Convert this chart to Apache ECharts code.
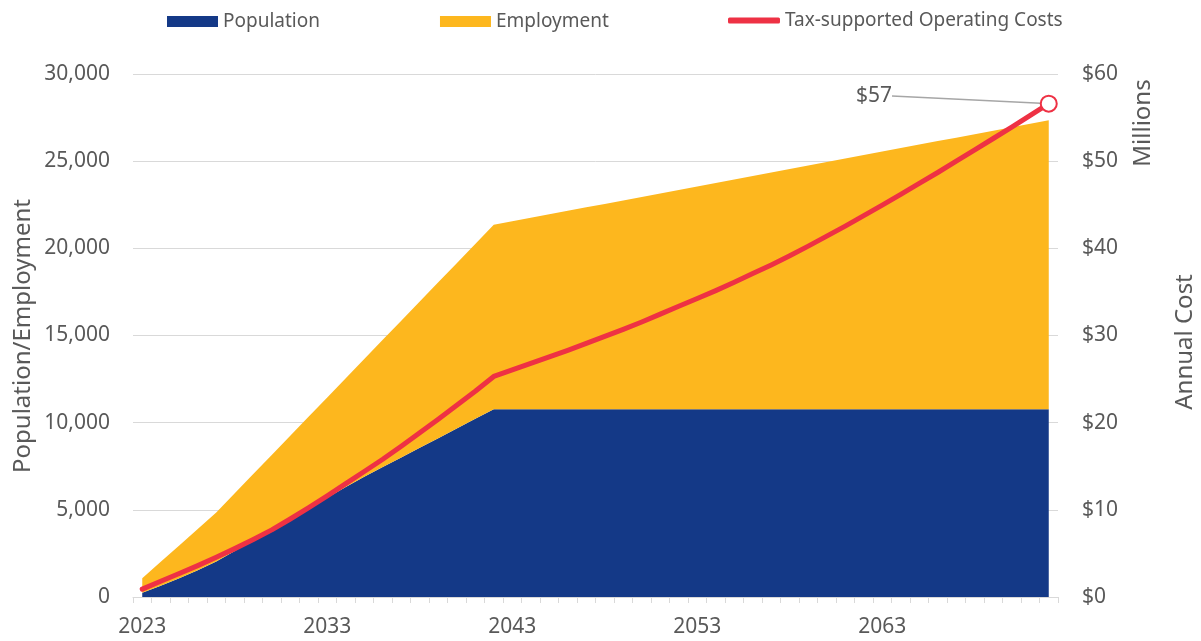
<!DOCTYPE html>
<html>
<head>
<meta charset="utf-8">
<script src="https://cdn.jsdelivr.net/npm/echarts@6/dist/echarts.min.js"></script>
<style>
  html, body { margin: 0; padding: 0; background: #fff; }
  #chart { width: 1201px; height: 641px; }
</style>
</head>
<body>
<div id="chart"></div>
<script>
// ---- Data ----
const years = [];
for (let y = 2023; y <= 2072; y++) years.push(String(y));

const population = [
  250, 650, 1070, 1530, 2030, 2640, 3250, 3860, 4480, 5090,
  5700, 6310, 6900, 7450, 8000, 8560, 9110, 9660, 10220, 10770,
  10770, 10770, 10770, 10770, 10770, 10770, 10770, 10770, 10770, 10770,
  10770, 10770, 10770, 10770, 10770, 10770, 10770, 10770, 10770, 10770,
  10770, 10770, 10770, 10770, 10770, 10770, 10770, 10770, 10770, 10770
];

const employment = [
  820, 1365, 1890, 2375, 2820, 3310, 3800, 4290, 4770, 5260,
  5750, 6240, 6750, 7300, 7850, 8390, 8940, 9490, 10030, 10580,
  10780, 10980, 11180, 11380, 11580, 11780, 11980, 12180, 12380, 12580,
  12780, 12980, 13180, 13380, 13580, 13780, 13980, 14180, 14380, 14580,
  14780, 14980, 15180, 15380, 15580, 15780, 15980, 16180, 16380, 16580
];

const operatingCosts = [
  0.9, 1.8, 2.7, 3.6, 4.55, 5.55, 6.6, 7.7, 8.95, 10.25,
  11.6, 13.0, 14.4, 15.8, 17.3, 18.85, 20.4, 22.0, 23.6, 25.3,
  26.05, 26.8, 27.55, 28.3, 29.1, 29.9, 30.7, 31.55, 32.45, 33.35,
  34.25, 35.15, 36.1, 37.1, 38.1, 39.15, 40.25, 41.4, 42.55, 43.75,
  44.95, 46.2, 47.45, 48.7, 50.0, 51.3, 52.6, 53.9, 55.25, 56.6
];

const leftTicks = { min: 0, max: 30000, interval: 5000 };
const rightTicks = { min: 0, max: 60, interval: 10 };

// ---- Styles ----
const FONT = 'Noto Sans';
const TXT = '#595959';
const BLUE = '#143987';
const YELLOW = '#FDB71E';
const RED = '#EE3144';
const GRID = '#D9D9D9';

const costData = operatingCosts.map((v, i) => {
  if (i === operatingCosts.length - 1) {
    return {
      value: v,
      symbol: 'circle',
      symbolSize: 16,
      itemStyle: { color: '#fff', borderColor: RED, borderWidth: 2 },
      label: {
        show: true,
        formatter: p => '$' + Math.round(p.value),
        fontFamily: FONT, fontSize: 21, color: TXT
      }
    };
  }
  return v;
});

const chart = echarts.init(document.getElementById('chart'), null, { renderer: 'canvas' });

chart.setOption({
  animation: false,
  backgroundColor: '#fff',
  textStyle: { fontFamily: FONT, color: TXT },
  grid: { left: 133, right: 143, top: 74, bottom: 44, containLabel: false },
  legend: [
    {
      data: [
        { name: 'Population', icon: 'rect' },
        { name: 'Employment', icon: 'rect' }
      ],
      left: 167, top: 11, padding: 0,
      itemWidth: 51, itemHeight: 11, itemGap: 120,
      textStyle: { fontFamily: FONT, fontSize: 19, color: TXT, lineHeight: 21 }
    },
    {
      data: [{ name: 'Tax-supported Operating Costs', icon: 'roundRect' }],
      left: 728, top: 10, padding: 0,
      itemWidth: 52, itemHeight: 6,
      textStyle: { fontFamily: FONT, fontSize: 19, color: TXT, lineHeight: 21 }
    }
  ],
  xAxis: {
    type: 'category',
    data: years,
    boundaryGap: true,
    axisLine: { lineStyle: { color: GRID, width: 1 } },
    axisTick: { show: true, interval: 0, length: 6, lineStyle: { color: GRID } },
    axisLabel: { interval: 9, fontFamily: FONT, fontSize: 21, color: TXT, margin: 20 },
    splitLine: { show: false }
  },
  yAxis: [
    {
      type: 'value',
      min: leftTicks.min, max: leftTicks.max, interval: leftTicks.interval,
      axisLine: { show: false },
      axisTick: { show: false },
      axisLabel: {
        fontFamily: FONT, fontSize: 21, color: TXT, margin: 23,
        formatter: v => v.toLocaleString('en-US')
      },
      splitLine: { lineStyle: { color: GRID, width: 1 } }
    },
    {
      type: 'value',
      min: rightTicks.min, max: rightTicks.max, interval: rightTicks.interval,
      position: 'right',
      axisLine: { show: false },
      axisTick: { show: false },
      axisLabel: {
        fontFamily: FONT, fontSize: 21, color: TXT, margin: 24,
        formatter: v => '$' + v
      },
      splitLine: { show: false }
    }
  ],
  graphic: [
    {
      type: 'text', x: 23, y: 336, rotation: Math.PI / 2,
      style: { text: 'Population/Employment', fontFamily: FONT, fontSize: 24, fill: TXT,
               align: 'center', verticalAlign: 'middle' }
    },
    {
      type: 'text', x: 1143, y: 123, rotation: Math.PI / 2,
      style: { text: 'Millions', fontFamily: FONT, fontSize: 24, fill: TXT,
               align: 'center', verticalAlign: 'middle' }
    },
    {
      type: 'text', x: 1185, y: 342, rotation: Math.PI / 2,
      style: { text: 'Annual Cost', fontFamily: FONT, fontSize: 24, fill: TXT,
               align: 'center', verticalAlign: 'middle' }
    }
  ],
  series: [
    {
      name: 'Population',
      type: 'line',
      stack: 'pe',
      data: population,
      yAxisIndex: 0,
      showSymbol: false,
      symbol: 'none',
      color: BLUE,
      itemStyle: { color: BLUE },
      lineStyle: { width: 0 },
      areaStyle: { color: BLUE, opacity: 1 },
      z: 2
    },
    {
      name: 'Employment',
      type: 'line',
      stack: 'pe',
      data: employment,
      yAxisIndex: 0,
      showSymbol: false,
      symbol: 'none',
      color: YELLOW,
      itemStyle: { color: YELLOW },
      lineStyle: { width: 0 },
      areaStyle: { color: YELLOW, opacity: 1 },
      z: 2
    },
    {
      name: 'Tax-supported Operating Costs',
      type: 'line',
      data: costData,
      yAxisIndex: 1,
      showSymbol: true,
      symbol: 'none',
      color: RED,
      itemStyle: { color: RED },
      lineStyle: { color: RED, width: 5, cap: 'round', join: 'round' },
      labelLayout: { x: 892, y: 96, align: 'right', verticalAlign: 'middle' },
      labelLine: { show: true, length2: 0, lineStyle: { color: '#A6A6A6', width: 1.5 } },
      z: 5
    }
  ]
});
</script>
</body>
</html>
